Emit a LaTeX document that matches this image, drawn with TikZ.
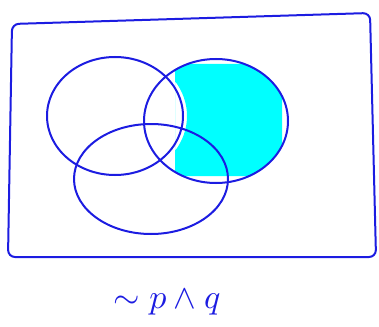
\documentclass[tikz,border=0pt]{standalone}
\usepackage{amsmath,amssymb}
\usepackage{graphicx}
\usepackage{xcolor}
\definecolor{penblue}{RGB}{28,28,225}
\definecolor{shadecyan}{RGB}{0,255,255}
\usepackage{tikz}
\usetikzlibrary{
  positioning,
  calc
}
\tikzset{
  pen/.style={draw=penblue, line width=2pt, line join=round, line cap=round},
}

\begin{document}
\begin{tikzpicture}[x=1pt, y=-1pt]
  \useasboundingbox (0,0) rectangle (379,326);

  % shaded region: inside Q, outside P
  \begin{scope}
    \clip (216,121) ellipse [x radius=72, y radius=62];
    \clip (175,64) rectangle (282,176);
    \fill[shadecyan, even odd rule]
      (175,64) rectangle (282,176)
      (115,116) ellipse [x radius=72, y radius=63];
  \end{scope}

  % universe
  \draw[pen, rounded corners=7pt] (12,24) -- (370,13) -- (376,257) -- (8,257) -- cycle;

  % sets
  \draw[pen] (115,116) ellipse [x radius=68, y radius=59];
  \draw[pen] (216,121) ellipse [x radius=72, y radius=62];
  \draw[pen] (151,179) ellipse [x radius=77, y radius=55];

  % Label
  \node[penblue] (lbl) at (167,302)
    {\scalebox{3.4}{$\sim p \wedge q$}};
\end{tikzpicture}
\end{document}
